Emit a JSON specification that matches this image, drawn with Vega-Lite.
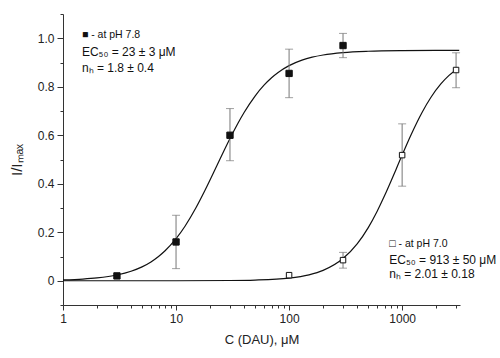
{
  "$schema": "https://vega.github.io/schema/vega-lite/v6.json",
  "autosize": {"type": "none"},
  "padding": {"left": 63, "top": 14, "right": 40, "bottom": 53},
  "width": 397,
  "height": 291,
  "background": "white",
  "config": {
    "view": {"stroke": null},
    "font": "Liberation Sans",
    "axis": {"domainColor": "#333", "tickColor": "#333", "labelColor": "#222", "titleColor": "#222", "labelFont": "Liberation Sans", "titleFont": "Liberation Sans", "grid": false, "titleFontWeight": "normal"}
  },
  "datasets": {
    "curves": [
      {"c": 1, "y": 0.0034, "ph": "7.8"}, {"c": 1.5, "y": 0.0069, "ph": "7.8"}, {"c": 2, "y": 0.0116, "ph": "7.8"},
      {"c": 3, "y": 0.0237, "ph": "7.8"}, {"c": 4, "y": 0.0391, "ph": "7.8"}, {"c": 5, "y": 0.0572, "ph": "7.8"},
      {"c": 6, "y": 0.0776, "ph": "7.8"}, {"c": 7, "y": 0.0999, "ph": "7.8"}, {"c": 8, "y": 0.1235, "ph": "7.8"},
      {"c": 10, "y": 0.1734, "ph": "7.8"}, {"c": 12, "y": 0.2248, "ph": "7.8"}, {"c": 15, "y": 0.3008, "ph": "7.8"},
      {"c": 18, "y": 0.3719, "ph": "7.8"}, {"c": 23, "y": 0.475, "ph": "7.8"}, {"c": 27, "y": 0.5431, "ph": "7.8"},
      {"c": 30, "y": 0.5865, "ph": "7.8"}, {"c": 35, "y": 0.6464, "ph": "7.8"}, {"c": 40, "y": 0.6938, "ph": "7.8"},
      {"c": 50, "y": 0.7617, "ph": "7.8"}, {"c": 60, "y": 0.8065, "ph": "7.8"}, {"c": 70, "y": 0.8371, "ph": "7.8"},
      {"c": 80, "y": 0.8589, "ph": "7.8"}, {"c": 100, "y": 0.887, "ph": "7.8"}, {"c": 130, "y": 0.9097, "ph": "7.8"},
      {"c": 160, "y": 0.9219, "ph": "7.8"}, {"c": 200, "y": 0.931, "ph": "7.8"}, {"c": 300, "y": 0.9408, "ph": "7.8"},
      {"c": 500, "y": 0.9463, "ph": "7.8"}, {"c": 1000, "y": 0.9489, "ph": "7.8"}, {"c": 2000, "y": 0.9496, "ph": "7.8"},
      {"c": 3200, "y": 0.9498, "ph": "7.8"},
      {"c": 1, "y": 0.0, "ph": "7.0"}, {"c": 10, "y": 0.0001, "ph": "7.0"}, {"c": 30, "y": 0.001, "ph": "7.0"},
      {"c": 50, "y": 0.0028, "ph": "7.0"}, {"c": 100, "y": 0.011, "ph": "7.0"}, {"c": 150, "y": 0.0245, "ph": "7.0"},
      {"c": 200, "y": 0.0429, "ph": "7.0"}, {"c": 300, "y": 0.0917, "ph": "7.0"}, {"c": 400, "y": 0.1519, "ph": "7.0"},
      {"c": 500, "y": 0.2182, "ph": "7.0"}, {"c": 600, "y": 0.2857, "ph": "7.0"}, {"c": 700, "y": 0.3511, "ph": "7.0"},
      {"c": 800, "y": 0.4123, "ph": "7.0"}, {"c": 913, "y": 0.475, "ph": "7.0"}, {"c": 1000, "y": 0.5184, "ph": "7.0"},
      {"c": 1200, "y": 0.6023, "ph": "7.0"}, {"c": 1500, "y": 0.6941, "ph": "7.0"}, {"c": 1800, "y": 0.7566, "ph": "7.0"},
      {"c": 2200, "y": 0.8115, "ph": "7.0"}, {"c": 2600, "y": 0.8467, "ph": "7.0"}, {"c": 3000, "y": 0.8704, "ph": "7.0"}
    ],
    "points": [
      {"c": 3, "y": 0.02, "lo": null, "hi": null, "ph": "7.8"},
      {"c": 10, "y": 0.16, "lo": 0.05, "hi": 0.27, "ph": "7.8"},
      {"c": 30, "y": 0.60, "lo": 0.495, "hi": 0.71, "ph": "7.8"},
      {"c": 100, "y": 0.855, "lo": 0.755, "hi": 0.955, "ph": "7.8"},
      {"c": 300, "y": 0.97, "lo": 0.92, "hi": 1.02, "ph": "7.8"},
      {"c": 100, "y": 0.023, "lo": null, "hi": null, "ph": "7.0"},
      {"c": 300, "y": 0.085, "lo": 0.052, "hi": 0.117, "ph": "7.0"},
      {"c": 1000, "y": 0.518, "lo": 0.39, "hi": 0.647, "ph": "7.0"},
      {"c": 3000, "y": 0.869, "lo": 0.796, "hi": 0.94, "ph": "7.0"}
    ],
    "headers": [
      {"c": 1.47, "y": 1.012, "t": "■ - at pH 7.8"},
      {"c": 769, "y": 0.151, "t": "□ - at pH 7.0"}
    ],
    "notes": [
      {"c": 1.47, "y": 0.945, "t": "EC₅₀ = 23 ± 3 μM"},
      {"c": 1.47, "y": 0.879, "t": "nₕ = 1.8 ± 0.4"},
      {"c": 769, "y": 0.087, "t": "EC₅₀ = 913 ± 50 μM"},
      {"c": 769, "y": 0.029, "t": "nₕ = 2.01 ± 0.18"}
    ]
  },
  "encoding": {
    "x": {"field": "c", "type": "quantitative",
      "scale": {"type": "log", "domain": [1, 3250], "nice": false},
      "axis": {"title": "C (DAU), μM", "titleFontSize": 13, "titlePadding": 9, "labelFontSize": 12, "labelPadding": 3,
        "values": [1,2,3,4,5,6,7,8,9,10,20,30,40,50,60,70,80,90,100,200,300,400,500,600,700,800,900,1000,2000,3000],
        "labelExpr": "indexof([1,10,100,1000], datum.value) >= 0 ? datum.value : ''",
        "tickSize": {"condition": {"test": "indexof([1,10,100,1000], datum.value) >= 0", "value": 5}, "value": 3},
        "labelFlush": false, "labelOverlap": false}},
    "y": {"field": "y", "type": "quantitative",
      "scale": {"domain": [-0.1, 1.1], "nice": false, "zero": false},
      "axis": {"title": "I/Iₘₐₓ", "titleFontSize": 15, "titlePadding": 13, "labelFontSize": 12, "labelPadding": 3,
        "values": [-0.1, 0, 0.1, 0.2, 0.3, 0.4, 0.5, 0.6, 0.7, 0.8, 0.9, 1.0, 1.1],
        "labelExpr": "indexof([0,0.2,0.4,0.6,0.8,1], datum.value) >= 0 ? (datum.value == 0 ? '0' : format(datum.value, '.1f')) : ''",
        "tickSize": {"condition": {"test": "indexof([0,0.2,0.4,0.6,0.8,1], datum.value) >= 0", "value": 6}, "value": 3},
        "labelFlush": false, "labelOverlap": false}}
  },
  "layer": [
    {"data": {"name": "curves"}, "mark": {"type": "line", "color": "#111", "strokeWidth": 1.2, "interpolate": "monotone"},
      "encoding": {"detail": {"field": "ph"}}},
    {"data": {"name": "points"}, "mark": {"type": "rule", "color": "#777", "strokeWidth": 1},
      "encoding": {"y": {"field": "lo", "type": "quantitative"}, "y2": {"field": "hi"}}},
    {"data": {"name": "points"}, "mark": {"type": "tick", "orient": "horizontal", "color": "#777", "size": 8, "thickness": 1},
      "encoding": {"y": {"field": "lo", "type": "quantitative"}}},
    {"data": {"name": "points"}, "mark": {"type": "tick", "orient": "horizontal", "color": "#777", "size": 8, "thickness": 1},
      "encoding": {"y": {"field": "hi", "type": "quantitative"}}},
    {"data": {"name": "points"}, "mark": {"type": "point", "shape": "square", "stroke": "#111", "strokeWidth": 1, "opacity": 1},
      "encoding": {
        "fill": {"field": "ph", "type": "nominal", "scale": {"domain": ["7.8", "7.0"], "range": ["#111", "white"]}, "legend": null},
        "size": {"field": "ph", "type": "nominal", "scale": {"domain": ["7.8", "7.0"], "range": [40, 30]}, "legend": null}}},
    {"data": {"name": "headers"}, "mark": {"type": "text", "align": "left", "baseline": "middle", "fontSize": 10.5, "color": "#111"},
      "encoding": {"text": {"field": "t"}}},
    {"data": {"name": "notes"}, "mark": {"type": "text", "align": "left", "baseline": "middle", "fontSize": 12, "color": "#111"},
      "encoding": {"text": {"field": "t"}}}
  ]
}
